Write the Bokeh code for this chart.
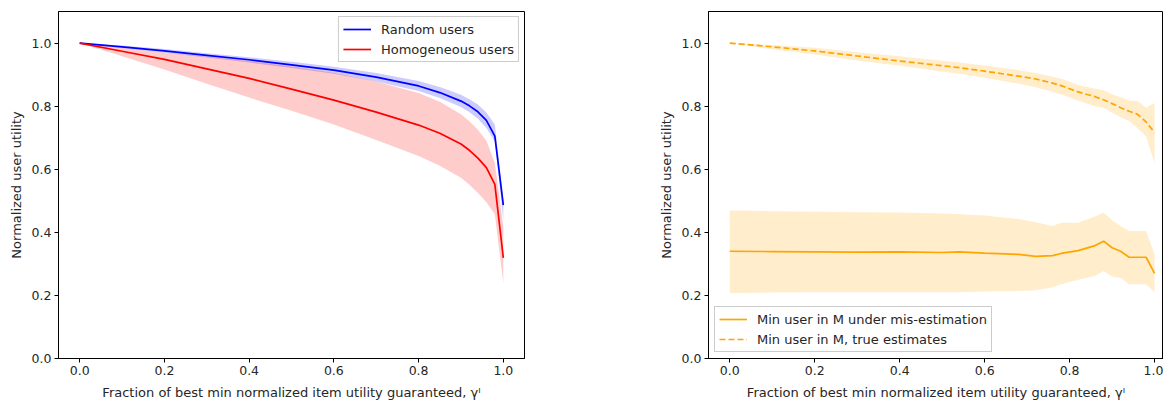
from bokeh.plotting import figure
from bokeh.layouts import row
from bokeh.models import Range1d, Legend, LegendItem, FixedTicker, PrintfTickFormatter
from bokeh.embed import file_html
from bokeh.resources import INLINE

# ---------------- data (left panel) ----------------
x_left = [0.0, 0.1, 0.2, 0.3, 0.4, 0.5, 0.6, 0.7, 0.8, 0.85, 0.9, 0.92, 0.94, 0.96, 0.98, 1.0]
random_mean = [1.0, 0.988, 0.975, 0.961, 0.947, 0.931, 0.914, 0.892, 0.864, 0.843, 0.816, 0.801, 0.782, 0.755, 0.705, 0.486]
random_low = [1.0, 0.984, 0.969, 0.954, 0.938, 0.921, 0.903, 0.878, 0.848, 0.826, 0.797, 0.781, 0.760, 0.731, 0.688, 0.438]
random_high = [1.0, 0.992, 0.981, 0.968, 0.955, 0.941, 0.925, 0.905, 0.880, 0.861, 0.836, 0.822, 0.805, 0.780, 0.742, 0.500]
homog_mean = [1.0, 0.974, 0.948, 0.918, 0.888, 0.854, 0.819, 0.781, 0.740, 0.714, 0.680, 0.660, 0.635, 0.605, 0.552, 0.319]
homog_low = [1.0, 0.958, 0.916, 0.871, 0.827, 0.785, 0.742, 0.693, 0.642, 0.611, 0.573, 0.551, 0.525, 0.495, 0.457, 0.238]
homog_high = [1.0, 0.985, 0.969, 0.957, 0.943, 0.926, 0.906, 0.878, 0.842, 0.814, 0.774, 0.752, 0.725, 0.690, 0.620, 0.420]

# ---------------- data (right panel) ----------------
x_right = [0.0, 0.1, 0.2, 0.3, 0.4, 0.5, 0.54, 0.6, 0.68, 0.72, 0.76, 0.78, 0.82, 0.86, 0.88, 0.9, 0.92, 0.94, 0.96, 0.98, 1.0]
mis_mean = [0.340, 0.339, 0.338, 0.337, 0.338, 0.336, 0.338, 0.334, 0.330, 0.324, 0.326, 0.333, 0.342, 0.358, 0.372, 0.351, 0.340, 0.321, 0.321, 0.321, 0.270]
mis_low = [0.208, 0.209, 0.210, 0.210, 0.210, 0.210, 0.210, 0.212, 0.214, 0.216, 0.226, 0.235, 0.250, 0.262, 0.277, 0.260, 0.255, 0.235, 0.235, 0.235, 0.210]
mis_high = [0.469, 0.467, 0.465, 0.464, 0.463, 0.460, 0.457, 0.453, 0.442, 0.432, 0.420, 0.430, 0.430, 0.450, 0.463, 0.438, 0.420, 0.404, 0.404, 0.404, 0.330]
true_mean = [1.000, 0.988, 0.975, 0.959, 0.943, 0.928, 0.922, 0.911, 0.895, 0.886, 0.873, 0.865, 0.845, 0.830, 0.820, 0.808, 0.795, 0.784, 0.774, 0.750, 0.716]
true_low = [1.000, 0.980, 0.964, 0.945, 0.928, 0.910, 0.903, 0.890, 0.871, 0.860, 0.846, 0.838, 0.817, 0.800, 0.795, 0.780, 0.765, 0.753, 0.730, 0.704, 0.620]
true_high = [1.000, 0.994, 0.985, 0.971, 0.958, 0.944, 0.938, 0.929, 0.914, 0.905, 0.893, 0.887, 0.867, 0.855, 0.850, 0.838, 0.828, 0.818, 0.816, 0.795, 0.810]

x_ticks = [0.0, 0.2, 0.4, 0.6, 0.8, 1.0]
y_ticks = [0.0, 0.2, 0.4, 0.6, 0.8, 1.0]

FONT = "DejaVu Sans"
FS_TICK = "12.5px"
FS_LABEL = "13px"
X_LABEL = "Fraction of best min normalized item utility guaranteed, \u03b3\u1d35"
Y_LABEL = "Normalized user utility"


def style(p):
    p.xgrid.visible = False
    p.ygrid.visible = False
    p.outline_line_color = "black"
    p.outline_line_width = 1
    p.background_fill_color = "white"
    p.border_fill_color = "white"
    p.xaxis[0].ticker = FixedTicker(ticks=x_ticks)
    p.yaxis[0].ticker = FixedTicker(ticks=y_ticks)
    for ax in (p.xaxis[0], p.yaxis[0]):
        ax.formatter = PrintfTickFormatter(format="%.1f")
        ax.major_tick_out = 4
        ax.major_tick_in = 0
        ax.minor_tick_out = 0
        ax.minor_tick_in = 0
        ax.axis_line_color = "black"
        ax.major_tick_line_color = "black"
        ax.major_label_text_font = FONT
        ax.major_label_text_font_size = FS_TICK
        ax.major_label_text_color = "#262626"
        ax.axis_label_text_font = FONT
        ax.axis_label_text_font_size = FS_LABEL
        ax.axis_label_text_font_style = "normal"
        ax.axis_label_text_color = "#262626"
    p.xaxis[0].major_label_standoff = 3
    p.yaxis[0].major_label_standoff = 3
    p.xaxis[0].axis_label = X_LABEL
    p.yaxis[0].axis_label = Y_LABEL
    p.xaxis[0].axis_label_standoff = 7
    p.yaxis[0].axis_label_standoff = 5


def style_legend(lg, margin):
    lg.label_text_font = FONT
    lg.label_text_font_size = "13px"
    lg.label_text_color = "#262626"
    lg.border_line_color = "#cccccc"
    lg.border_line_alpha = 1
    lg.background_fill_alpha = 0.8
    lg.glyph_width = 28
    lg.glyph_height = 16
    lg.label_height = 16
    lg.spacing = 4
    lg.padding = 4
    lg.margin = margin
    lg.label_standoff = 10


# ---------------- left figure ----------------
p1 = figure(width=570, height=402, output_backend="svg", toolbar_location=None,
            x_range=Range1d(-0.05, 1.05), y_range=Range1d(0.0, 1.1),
            min_border_left=58, min_border_right=46, min_border_top=11, min_border_bottom=44)
style(p1)
p1.varea(x=x_left, y1=random_low, y2=random_high, fill_color="blue", fill_alpha=0.2)
p1.varea(x=x_left, y1=homog_low, y2=homog_high, fill_color="red", fill_alpha=0.2)
r_rand = p1.line(x_left, random_mean, line_color="blue", line_width=1.7)
r_hom = p1.line(x_left, homog_mean, line_color="red", line_width=1.7)
lg1 = Legend(items=[LegendItem(label="Random users", renderers=[r_rand]),
                    LegendItem(label="Homogeneous users", renderers=[r_hom])],
             location="top_right")
style_legend(lg1, 5)
p1.add_layout(lg1, "center")

# ---------------- right figure ----------------
p2 = figure(width=593, height=402, output_backend="svg", toolbar_location=None,
            x_range=Range1d(-0.05, 1.021), y_range=Range1d(0.0, 1.1),
            min_border_left=138, min_border_right=0, min_border_top=11, min_border_bottom=44)
style(p2)
p2.varea(x=x_right, y1=mis_low, y2=mis_high, fill_color="orange", fill_alpha=0.2)
p2.varea(x=x_right, y1=true_low, y2=true_high, fill_color="orange", fill_alpha=0.2)
r_mis = p2.line(x_right, mis_mean, line_color="orange", line_width=1.7)
r_true = p2.line(x_right, true_mean, line_color="orange", line_width=1.7, line_dash="6 3")
lg2 = Legend(items=[LegendItem(label="Min user in M under mis-estimation", renderers=[r_mis]),
                    LegendItem(label="Min user in M, true estimates", renderers=[r_true])],
             location="bottom_left")
style_legend(lg2, 6)
p2.add_layout(lg2, "center")

layout = row(p1, p2)
open("out.html", "w").write(file_html(layout, INLINE))
